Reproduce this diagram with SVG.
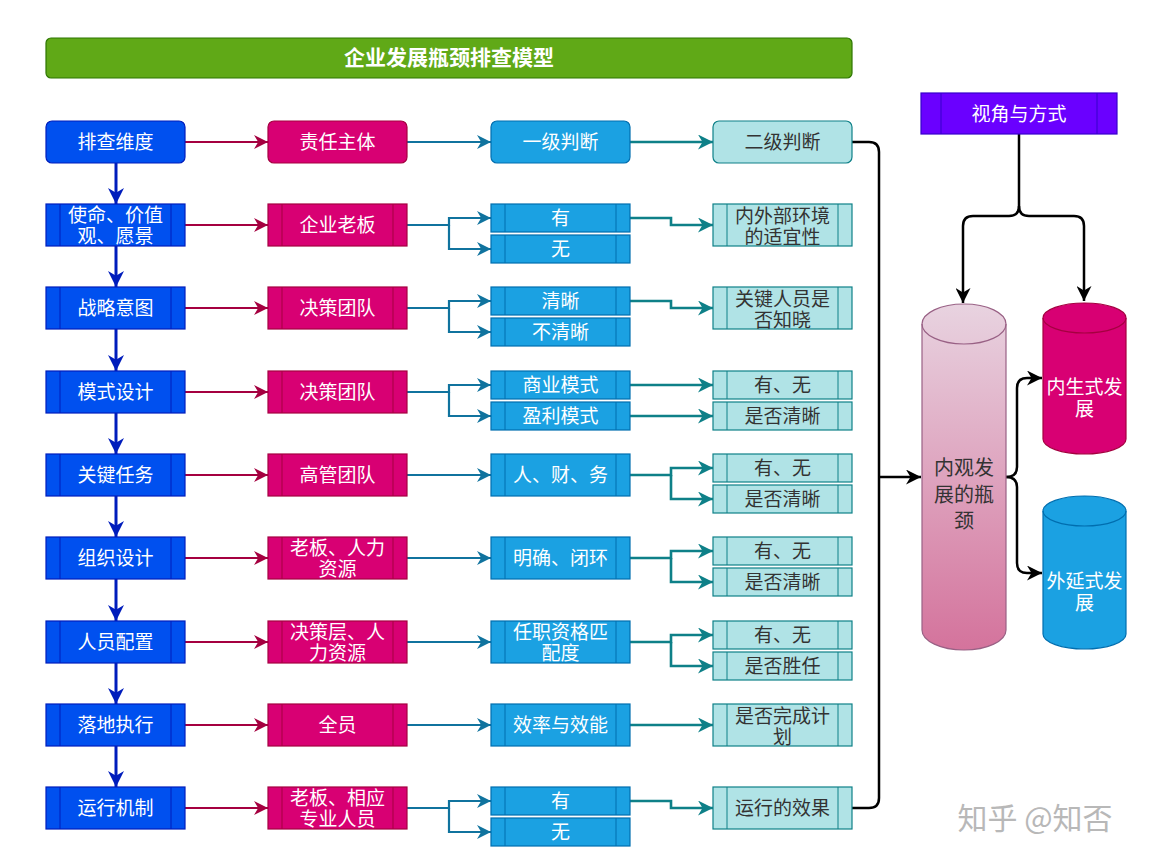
<svg xmlns="http://www.w3.org/2000/svg" width="1154" height="861" viewBox="0 0 1154 861">
<style>
.b1{fill:#0050EF;stroke:#001DBC;stroke-width:1.2}
.b2{fill:#D80073;stroke:#A50040;stroke-width:1.2}
.b3{fill:#1BA1E2;stroke:#006EAF;stroke-width:1.2}
.b4{fill:#B0E3E6;stroke:#0E8088;stroke-width:1.2}
.l1{stroke:#001DBC;stroke-width:1}
.l2{stroke:#A50040;stroke-width:1}
.l3{stroke:#006EAF;stroke-width:1}
.l4{stroke:#0E8088;stroke-width:1}
.t{font-family:"Liberation Serif","Noto Sans CJK SC",serif;font-size:19px;text-anchor:middle;dominant-baseline:central}
.w{fill:#fff}
.d{fill:#333}
.cA{fill:none;stroke:#A50040;stroke-width:2}
.cB{fill:none;stroke:#10739E;stroke-width:2.2}
.cC{fill:none;stroke:#0E8088;stroke-width:2.6}
.cV{fill:none;stroke:#001DBC;stroke-width:3}
.cK{fill:none;stroke:#000;stroke-width:2.5}
</style>
<defs>
<marker id="mA" markerUnits="userSpaceOnUse" markerWidth="14" markerHeight="14" viewBox="0 0 10 10" refX="10" refY="5" orient="auto"><path d="M0,0 L10,5 L0,10 L3,5z" fill="#A50040"/></marker>
<marker id="mB" markerUnits="userSpaceOnUse" markerWidth="14" markerHeight="14" viewBox="0 0 10 10" refX="10" refY="5" orient="auto"><path d="M0,0 L10,5 L0,10 L3,5z" fill="#10739E"/></marker>
<marker id="mC" markerUnits="userSpaceOnUse" markerWidth="15" markerHeight="15" viewBox="0 0 10 10" refX="10" refY="5" orient="auto"><path d="M0,0 L10,5 L0,10 L3,5z" fill="#0E8088"/></marker>
<marker id="mV" markerUnits="userSpaceOnUse" markerWidth="16" markerHeight="16" viewBox="0 0 10 10" refX="10" refY="5" orient="auto"><path d="M0,0 L10,5 L0,10 L3,5z" fill="#001DBC"/></marker>
<marker id="mK" markerUnits="userSpaceOnUse" markerWidth="15" markerHeight="15" viewBox="0 0 10 10" refX="10" refY="5" orient="auto"><path d="M0,0 L10,5 L0,10 L3,5z" fill="#000"/></marker>
<linearGradient id="gP" x1="0" y1="0" x2="0" y2="1"><stop offset="0" stop-color="#E8D3E0"/><stop offset="1" stop-color="#D4739C"/></linearGradient>
</defs>
<rect width="1154" height="861" fill="#fff"/>

<g id="title">
<rect x="46" y="38" width="806" height="40" rx="5" fill="#60A917" stroke="#2D7600" stroke-width="1.2"/>
<text x="449" y="58" class="t w" style="font-size:21px;font-weight:bold">企业发展瓶颈排查模型</text>
</g>

<g id="connectors">
<path class="cV" marker-end="url(#mV)" d="M116,163 L116,204"/>
<path class="cV" marker-end="url(#mV)" d="M116,246 L116,287"/>
<path class="cV" marker-end="url(#mV)" d="M116,329 L116,371"/>
<path class="cV" marker-end="url(#mV)" d="M116,413 L116,454"/>
<path class="cV" marker-end="url(#mV)" d="M116,496 L116,537"/>
<path class="cV" marker-end="url(#mV)" d="M116,579 L116,621"/>
<path class="cV" marker-end="url(#mV)" d="M116,663 L116,704"/>
<path class="cV" marker-end="url(#mV)" d="M116,746 L116,787"/>
<path class="cA" marker-end="url(#mA)" d="M185,142 L268,142"/>
<path class="cA" marker-end="url(#mA)" d="M185,225 L268,225"/>
<path class="cA" marker-end="url(#mA)" d="M185,308 L268,308"/>
<path class="cA" marker-end="url(#mA)" d="M185,392 L268,392"/>
<path class="cA" marker-end="url(#mA)" d="M185,475 L268,475"/>
<path class="cA" marker-end="url(#mA)" d="M185,558 L268,558"/>
<path class="cA" marker-end="url(#mA)" d="M185,642 L268,642"/>
<path class="cA" marker-end="url(#mA)" d="M185,725 L268,725"/>
<path class="cA" marker-end="url(#mA)" d="M185,808 L268,808"/>
<path class="cB" marker-end="url(#mB)" d="M407,142 L491,142"/>
<path class="cB" marker-end="url(#mB)" d="M407,225 L449,225 L449,218 L491,218"/>
<path class="cB" marker-end="url(#mB)" d="M449,225 L449,249 L491,249"/>
<path class="cB" marker-end="url(#mB)" d="M407,308 L449,308 L449,301 L491,301"/>
<path class="cB" marker-end="url(#mB)" d="M449,308 L449,332 L491,332"/>
<path class="cB" marker-end="url(#mB)" d="M407,392 L449,392 L449,385 L491,385"/>
<path class="cB" marker-end="url(#mB)" d="M449,392 L449,416 L491,416"/>
<path class="cB" marker-end="url(#mB)" d="M407,475 L491,475"/>
<path class="cB" marker-end="url(#mB)" d="M407,558 L491,558"/>
<path class="cB" marker-end="url(#mB)" d="M407,642 L491,642"/>
<path class="cB" marker-end="url(#mB)" d="M407,725 L491,725"/>
<path class="cB" marker-end="url(#mB)" d="M407,808 L449,808 L449,801 L491,801"/>
<path class="cB" marker-end="url(#mB)" d="M449,808 L449,832 L491,832"/>
<path class="cC" marker-end="url(#mC)" d="M630,142 L713,142"/>
<path class="cC" marker-end="url(#mC)" d="M630,218 L671,218 L671,225 L713,225"/>
<path class="cC" marker-end="url(#mC)" d="M630,301 L671,301 L671,308 L713,308"/>
<path class="cC" marker-end="url(#mC)" d="M630,385 L713,385"/>
<path class="cC" marker-end="url(#mC)" d="M630,416 L713,416"/>
<path class="cC" marker-end="url(#mC)" d="M630,475 L671,475 L671,468 L713,468"/>
<path class="cC" marker-end="url(#mC)" d="M671,475 L671,499 L713,499"/>
<path class="cC" marker-end="url(#mC)" d="M630,558 L671,558 L671,551 L713,551"/>
<path class="cC" marker-end="url(#mC)" d="M671,558 L671,582 L713,582"/>
<path class="cC" marker-end="url(#mC)" d="M630,642 L671,642 L671,635 L713,635"/>
<path class="cC" marker-end="url(#mC)" d="M671,642 L671,666 L713,666"/>
<path class="cC" marker-end="url(#mC)" d="M630,725 L713,725"/>
<path class="cC" marker-end="url(#mC)" d="M630,801 L671,801 L671,808 L713,808"/>
<path class="cK" d="M852,142 L869,142 Q879,142 879,152 L879,798 Q879,808 869,808 L852,808"/>
<path class="cK" marker-end="url(#mK)" d="M879,477 L921,477"/>
<path class="cK" marker-end="url(#mK)" d="M1019,134 L1019,206 Q1019,216 1009,216 L973,216 Q963,216 963,226 L963,303"/>
<path class="cK" marker-end="url(#mK)" d="M1019,206 Q1019,216 1029,216 L1074,216 Q1084,216 1084,226 L1084,301"/>
<path class="cK" marker-end="url(#mK)" d="M1006,477 Q1017,477 1017,467 L1017,388 Q1017,378 1027,378 L1042,378"/>
<path class="cK" marker-end="url(#mK)" d="M1006,477 Q1017,477 1017,487 L1017,563 Q1017,573 1027,573 L1042,573"/>
</g>

<g id="c1r0"><rect class="b1" x="46" y="121" width="139" height="42" rx="6"/><text class="t w" x="115.5" y="142">排查维度</text></g>
<g id="c1r1"><rect class="b1" x="46" y="204" width="139" height="42"/><line class="l1" x1="60" y1="204" x2="60" y2="246"/><line class="l1" x1="171" y1="204" x2="171" y2="246"/><text class="t w" x="115.5" y="215">使命、价值</text><text class="t w" x="115.5" y="236">观、愿景</text></g>
<g id="c1r2"><rect class="b1" x="46" y="287" width="139" height="42"/><line class="l1" x1="60" y1="287" x2="60" y2="329"/><line class="l1" x1="171" y1="287" x2="171" y2="329"/><text class="t w" x="115.5" y="308">战略意图</text></g>
<g id="c1r3"><rect class="b1" x="46" y="371" width="139" height="42"/><line class="l1" x1="60" y1="371" x2="60" y2="413"/><line class="l1" x1="171" y1="371" x2="171" y2="413"/><text class="t w" x="115.5" y="392">模式设计</text></g>
<g id="c1r4"><rect class="b1" x="46" y="454" width="139" height="42"/><line class="l1" x1="60" y1="454" x2="60" y2="496"/><line class="l1" x1="171" y1="454" x2="171" y2="496"/><text class="t w" x="115.5" y="475">关键任务</text></g>
<g id="c1r5"><rect class="b1" x="46" y="537" width="139" height="42"/><line class="l1" x1="60" y1="537" x2="60" y2="579"/><line class="l1" x1="171" y1="537" x2="171" y2="579"/><text class="t w" x="115.5" y="558">组织设计</text></g>
<g id="c1r6"><rect class="b1" x="46" y="621" width="139" height="42"/><line class="l1" x1="60" y1="621" x2="60" y2="663"/><line class="l1" x1="171" y1="621" x2="171" y2="663"/><text class="t w" x="115.5" y="642">人员配置</text></g>
<g id="c1r7"><rect class="b1" x="46" y="704" width="139" height="42"/><line class="l1" x1="60" y1="704" x2="60" y2="746"/><line class="l1" x1="171" y1="704" x2="171" y2="746"/><text class="t w" x="115.5" y="725">落地执行</text></g>
<g id="c1r8"><rect class="b1" x="46" y="787" width="139" height="42"/><line class="l1" x1="60" y1="787" x2="60" y2="829"/><line class="l1" x1="171" y1="787" x2="171" y2="829"/><text class="t w" x="115.5" y="808">运行机制</text></g>

<g id="c2r0"><rect class="b2" x="268" y="121" width="139" height="42" rx="6"/><text class="t w" x="337.5" y="142">责任主体</text></g>
<g id="c2r1"><rect class="b2" x="268" y="204" width="139" height="42"/><line class="l2" x1="282" y1="204" x2="282" y2="246"/><line class="l2" x1="393" y1="204" x2="393" y2="246"/><text class="t w" x="337.5" y="225">企业老板</text></g>
<g id="c2r2"><rect class="b2" x="268" y="287" width="139" height="42"/><line class="l2" x1="282" y1="287" x2="282" y2="329"/><line class="l2" x1="393" y1="287" x2="393" y2="329"/><text class="t w" x="337.5" y="308">决策团队</text></g>
<g id="c2r3"><rect class="b2" x="268" y="371" width="139" height="42"/><line class="l2" x1="282" y1="371" x2="282" y2="413"/><line class="l2" x1="393" y1="371" x2="393" y2="413"/><text class="t w" x="337.5" y="392">决策团队</text></g>
<g id="c2r4"><rect class="b2" x="268" y="454" width="139" height="42"/><line class="l2" x1="282" y1="454" x2="282" y2="496"/><line class="l2" x1="393" y1="454" x2="393" y2="496"/><text class="t w" x="337.5" y="475">高管团队</text></g>
<g id="c2r5"><rect class="b2" x="268" y="537" width="139" height="42"/><line class="l2" x1="282" y1="537" x2="282" y2="579"/><line class="l2" x1="393" y1="537" x2="393" y2="579"/><text class="t w" x="337.5" y="548">老板、人力</text><text class="t w" x="337.5" y="569">资源</text></g>
<g id="c2r6"><rect class="b2" x="268" y="621" width="139" height="42"/><line class="l2" x1="282" y1="621" x2="282" y2="663"/><line class="l2" x1="393" y1="621" x2="393" y2="663"/><text class="t w" x="337.5" y="632">决策层、人</text><text class="t w" x="337.5" y="653">力资源</text></g>
<g id="c2r7"><rect class="b2" x="268" y="704" width="139" height="42"/><line class="l2" x1="282" y1="704" x2="282" y2="746"/><line class="l2" x1="393" y1="704" x2="393" y2="746"/><text class="t w" x="337.5" y="725">全员</text></g>
<g id="c2r8"><rect class="b2" x="268" y="787" width="139" height="42"/><line class="l2" x1="282" y1="787" x2="282" y2="829"/><line class="l2" x1="393" y1="787" x2="393" y2="829"/><text class="t w" x="337.5" y="798">老板、相应</text><text class="t w" x="337.5" y="819">专业人员</text></g>

<g id="c3r0"><rect class="b3" x="491" y="121" width="139" height="42" rx="6"/><text class="t w" x="560.5" y="142">一级判断</text></g>
<g id="c3r1a"><rect class="b3" x="491" y="204" width="139" height="28"/><line class="l3" x1="505" y1="204" x2="505" y2="232"/><line class="l3" x1="616" y1="204" x2="616" y2="232"/><text class="t w" x="560.5" y="218">有</text></g>
<g id="c3r1b"><rect class="b3" x="491" y="235" width="139" height="28"/><line class="l3" x1="505" y1="235" x2="505" y2="263"/><line class="l3" x1="616" y1="235" x2="616" y2="263"/><text class="t w" x="560.5" y="249">无</text></g>
<g id="c3r2a"><rect class="b3" x="491" y="287" width="139" height="28"/><line class="l3" x1="505" y1="287" x2="505" y2="315"/><line class="l3" x1="616" y1="287" x2="616" y2="315"/><text class="t w" x="560.5" y="301">清晰</text></g>
<g id="c3r2b"><rect class="b3" x="491" y="318" width="139" height="28"/><line class="l3" x1="505" y1="318" x2="505" y2="346"/><line class="l3" x1="616" y1="318" x2="616" y2="346"/><text class="t w" x="560.5" y="332">不清晰</text></g>
<g id="c3r3a"><rect class="b3" x="491" y="371" width="139" height="28"/><line class="l3" x1="505" y1="371" x2="505" y2="399"/><line class="l3" x1="616" y1="371" x2="616" y2="399"/><text class="t w" x="560.5" y="385">商业模式</text></g>
<g id="c3r3b"><rect class="b3" x="491" y="402" width="139" height="28"/><line class="l3" x1="505" y1="402" x2="505" y2="430"/><line class="l3" x1="616" y1="402" x2="616" y2="430"/><text class="t w" x="560.5" y="416">盈利模式</text></g>
<g id="c3r4"><rect class="b3" x="491" y="454" width="139" height="42"/><line class="l3" x1="505" y1="454" x2="505" y2="496"/><line class="l3" x1="616" y1="454" x2="616" y2="496"/><text class="t w" x="560.5" y="475">人、财、务</text></g>
<g id="c3r5"><rect class="b3" x="491" y="537" width="139" height="42"/><line class="l3" x1="505" y1="537" x2="505" y2="579"/><line class="l3" x1="616" y1="537" x2="616" y2="579"/><text class="t w" x="560.5" y="558">明确、闭环</text></g>
<g id="c3r6"><rect class="b3" x="491" y="621" width="139" height="42"/><line class="l3" x1="505" y1="621" x2="505" y2="663"/><line class="l3" x1="616" y1="621" x2="616" y2="663"/><text class="t w" x="560.5" y="632">任职资格匹</text><text class="t w" x="560.5" y="653">配度</text></g>
<g id="c3r7"><rect class="b3" x="491" y="704" width="139" height="42"/><line class="l3" x1="505" y1="704" x2="505" y2="746"/><line class="l3" x1="616" y1="704" x2="616" y2="746"/><text class="t w" x="560.5" y="725">效率与效能</text></g>
<g id="c3r8a"><rect class="b3" x="491" y="787" width="139" height="28"/><line class="l3" x1="505" y1="787" x2="505" y2="815"/><line class="l3" x1="616" y1="787" x2="616" y2="815"/><text class="t w" x="560.5" y="801">有</text></g>
<g id="c3r8b"><rect class="b3" x="491" y="818" width="139" height="28"/><line class="l3" x1="505" y1="818" x2="505" y2="846"/><line class="l3" x1="616" y1="818" x2="616" y2="846"/><text class="t w" x="560.5" y="832">无</text></g>

<g id="c4r0"><rect class="b4" x="713" y="121" width="139" height="42" rx="6"/><text class="t d" x="782.5" y="142">二级判断</text></g>
<g id="c4r1"><rect class="b4" x="713" y="204" width="139" height="42"/><line class="l4" x1="727" y1="204" x2="727" y2="246"/><line class="l4" x1="838" y1="204" x2="838" y2="246"/><text class="t d" x="782.5" y="216">内外部环境</text><text class="t d" x="782.5" y="237">的适宜性</text></g>
<g id="c4r2"><rect class="b4" x="713" y="287" width="139" height="42"/><line class="l4" x1="727" y1="287" x2="727" y2="329"/><line class="l4" x1="838" y1="287" x2="838" y2="329"/><text class="t d" x="782.5" y="299">关键人员是</text><text class="t d" x="782.5" y="320">否知晓</text></g>
<g id="c4r3a"><rect class="b4" x="713" y="371" width="139" height="28"/><line class="l4" x1="727" y1="371" x2="727" y2="399"/><line class="l4" x1="838" y1="371" x2="838" y2="399"/><text class="t d" x="782.5" y="385">有、无</text></g>
<g id="c4r3b"><rect class="b4" x="713" y="402" width="139" height="28"/><line class="l4" x1="727" y1="402" x2="727" y2="430"/><line class="l4" x1="838" y1="402" x2="838" y2="430"/><text class="t d" x="782.5" y="416">是否清晰</text></g>
<g id="c4r4a"><rect class="b4" x="713" y="454" width="139" height="28"/><line class="l4" x1="727" y1="454" x2="727" y2="482"/><line class="l4" x1="838" y1="454" x2="838" y2="482"/><text class="t d" x="782.5" y="468">有、无</text></g>
<g id="c4r4b"><rect class="b4" x="713" y="485" width="139" height="28"/><line class="l4" x1="727" y1="485" x2="727" y2="513"/><line class="l4" x1="838" y1="485" x2="838" y2="513"/><text class="t d" x="782.5" y="499">是否清晰</text></g>
<g id="c4r5a"><rect class="b4" x="713" y="537" width="139" height="28"/><line class="l4" x1="727" y1="537" x2="727" y2="565"/><line class="l4" x1="838" y1="537" x2="838" y2="565"/><text class="t d" x="782.5" y="551">有、无</text></g>
<g id="c4r5b"><rect class="b4" x="713" y="568" width="139" height="28"/><line class="l4" x1="727" y1="568" x2="727" y2="596"/><line class="l4" x1="838" y1="568" x2="838" y2="596"/><text class="t d" x="782.5" y="582">是否清晰</text></g>
<g id="c4r6a"><rect class="b4" x="713" y="621" width="139" height="28"/><line class="l4" x1="727" y1="621" x2="727" y2="649"/><line class="l4" x1="838" y1="621" x2="838" y2="649"/><text class="t d" x="782.5" y="635">有、无</text></g>
<g id="c4r6b"><rect class="b4" x="713" y="652" width="139" height="28"/><line class="l4" x1="727" y1="652" x2="727" y2="680"/><line class="l4" x1="838" y1="652" x2="838" y2="680"/><text class="t d" x="782.5" y="666">是否胜任</text></g>
<g id="c4r7"><rect class="b4" x="713" y="704" width="139" height="42"/><line class="l4" x1="727" y1="704" x2="727" y2="746"/><line class="l4" x1="838" y1="704" x2="838" y2="746"/><text class="t d" x="782.5" y="716">是否完成计</text><text class="t d" x="782.5" y="737">划</text></g>
<g id="c4r8"><rect class="b4" x="713" y="787" width="139" height="42"/><line class="l4" x1="727" y1="787" x2="727" y2="829"/><line class="l4" x1="838" y1="787" x2="838" y2="829"/><text class="t d" x="782.5" y="808">运行的效果</text></g>

<g id="view"><rect x="921" y="93" width="196" height="41" fill="#6A00FF" stroke="#3700CC" stroke-width="1.2"/><line x1="941" y1="93" x2="941" y2="134" stroke="#3700CC"/><line x1="1097" y1="93" x2="1097" y2="134" stroke="#3700CC"/><text class="t w" x="1019" y="114">视角与方式</text></g>

<g id="bigcyl">
<path d="M922,324 A42,20 0 0 1 1006,324 L1006,630 A42,20 0 0 1 922,630 Z" fill="url(#gP)" stroke="#996185" stroke-width="1.2"/>
<path d="M922,324 A42,20 0 0 0 1006,324" fill="none" stroke="#996185" stroke-width="1.2"/>
<text class="t d" x="964" y="468" style="font-size:20px">内观发</text>
<text class="t d" x="964" y="495" style="font-size:20px">展的瓶</text>
<text class="t d" x="964" y="521" style="font-size:20px">颈</text>
</g>

<g id="endo">
<path d="M1043,318 A41.5,15 0 0 1 1126,318 L1126,439 A41.5,15 0 0 1 1043,439 Z" fill="#D80073" stroke="#A50040" stroke-width="1.2"/>
<path d="M1043,318 A41.5,15 0 0 0 1126,318" fill="none" stroke="#A50040" stroke-width="1.2"/>
<text class="t w" x="1084.5" y="387">内生式发</text>
<text class="t w" x="1084.5" y="409">展</text>
</g>

<g id="exo">
<path d="M1043,511 A41.5,15 0 0 1 1126,511 L1126,634 A41.5,15 0 0 1 1043,634 Z" fill="#1BA1E2" stroke="#006EAF" stroke-width="1.2"/>
<path d="M1043,511 A41.5,15 0 0 0 1126,511" fill="none" stroke="#006EAF" stroke-width="1.2"/>
<text class="t w" x="1084.5" y="581">外延式发</text>
<text class="t w" x="1084.5" y="603">展</text>
</g>

<g id="watermark">
<text x="1035" y="816" style="font-family:'Noto Sans CJK SC',sans-serif;font-size:30px;text-anchor:middle;dominant-baseline:central;fill:#b8b8b8">知乎 @知否</text>
</g>
</svg>
